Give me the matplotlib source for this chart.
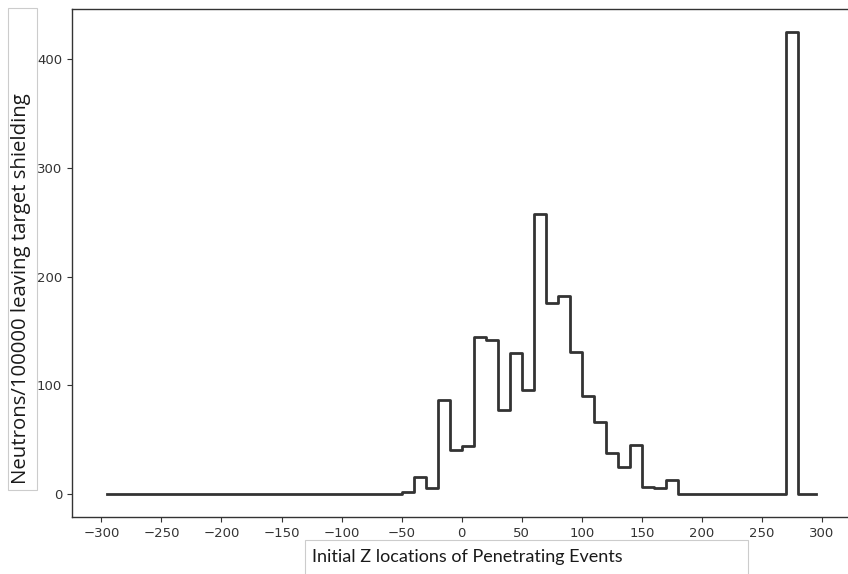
import matplotlib
matplotlib.use('Agg')

import numpy as np
import matplotlib.pyplot as plt
from matplotlib.patches import Rectangle

# bin centres of the 10-unit bins, -295 ... 295
z_centres = np.arange(-295, 296, 10)

# counts per bin (bins from -50 upward; all before are zero)
counts_low = [0] * 25                      # -300 .. -50
counts_mid = [2, 16, 5, 86, 40, 44, 144, 142, 77, 130,
              96, 258, 176, 182, 131, 90, 66, 38, 25, 45,
              6, 5, 13]                    # -50 .. 180
counts_high = [0] * 9 + [425, 0, 0]        # 180 .. 300
counts = counts_low + counts_mid + counts_high

x_ticks = [-300, -250, -200, -150, -100, -50, 0, 50, 100, 150, 200, 250, 300]
y_ticks = [0, 100, 200, 300, 400]

xlabel = 'Initial Z locations of Penetrating Events'
ylabel = 'Neutrons/100000 leaving target shielding'

fig = plt.figure(figsize=(8.48, 5.74), dpi=100)
fig.patch.set_facecolor('white')
ax = fig.add_axes([0.0849, 0.0993, 0.919, 0.885])

ax.plot(z_centres, counts, drawstyle='steps-mid', color='#333333', linewidth=2)

ax.set_xticks(x_ticks)
ax.set_yticks(y_ticks)
tick_font = dict(family='DejaVu Sans', size=9.5, color='#262626')
ax.set_xticklabels([f'\u2212{abs(v)}' if v < 0 else str(v) for v in x_ticks], **tick_font)
ax.set_yticklabels([str(v) for v in y_ticks], **tick_font)
ax.tick_params(colors='#333333', length=3.5)
for spine in ax.spines.values():
    spine.set_color('#333333')
    spine.set_linewidth(1)

# axis titles sit in light boxes, drawn in figure coordinates
fig.patches.append(Rectangle((8 / 848, 1 - 490 / 574), 29 / 848, 482 / 574,
                             transform=fig.transFigure, facecolor='white',
                             edgecolor='#cccccc', linewidth=0.8))
fig.text(21 / 848, 1 - 289 / 574, ylabel, rotation=90, ha='center', va='center',
         family='Open Sans', fontsize=14.7, color='#1a1a1a')

fig.patches.append(Rectangle((305 / 848, 1 - 600 / 574), 443 / 848, 60 / 574,
                             transform=fig.transFigure, facecolor='white',
                             edgecolor='#cccccc', linewidth=0.8))
fig.text(312 / 848, 1 - 557 / 574, xlabel, ha='left', va='center',
         family='Lato', fontsize=13, color='#1a1a1a')

fig.savefig('out.png', dpi=100, facecolor='white')
